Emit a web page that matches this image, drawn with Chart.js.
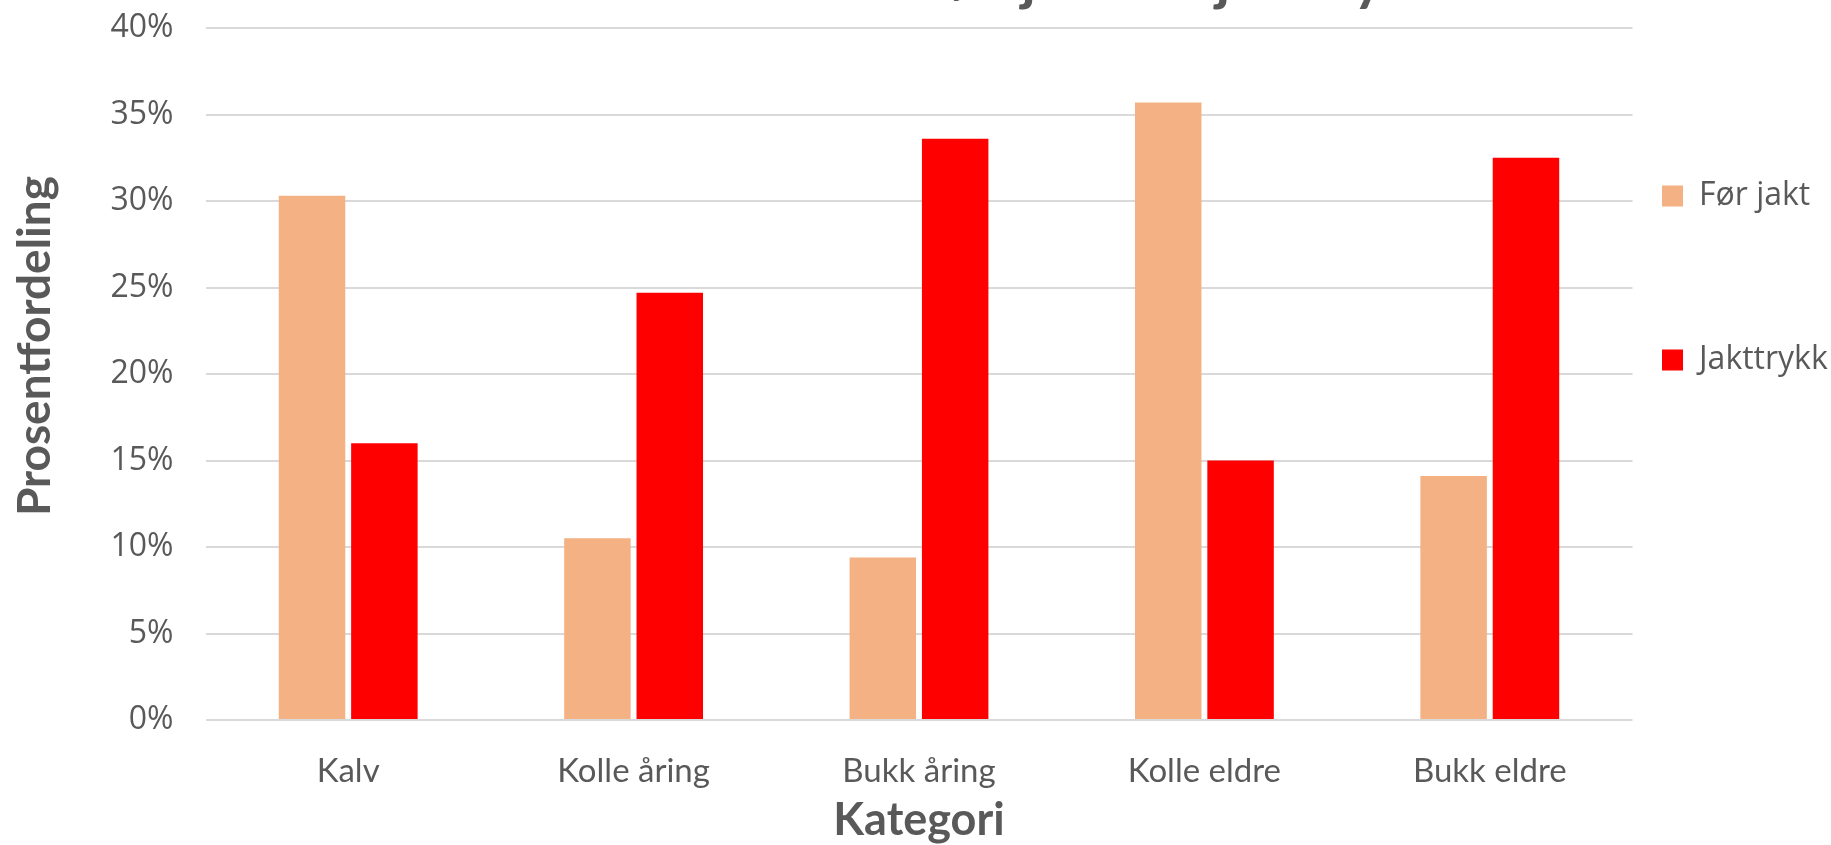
<!DOCTYPE html>
<html><head><meta charset="utf-8">
<script src="https://cdn.jsdelivr.net/npm/chart.js@4.4.1/dist/chart.umd.min.js"></script>
<style>
html,body{margin:0;padding:0;background:#fff;overflow:hidden;width:1831px;height:845px}
#wrap{position:absolute;left:0;top:-72px;width:1831px;height:917px}
</style>
</head><body><div id="wrap"><canvas id="c" width="1831" height="917"></canvas></div>
<script>
const categories = ['Kalv', 'Kolle åring', 'Bukk åring', 'Kolle eldre', 'Bukk eldre'];
const forJakt = [30.3, 10.5, 9.4, 35.7, 14.1];
const jakttrykk = [16.0, 24.7, 33.6, 15.0, 32.5];
const seriesNames = ['Før jakt', 'Jakttrykk'];
const yTicks = [0, 5, 10, 15, 20, 25, 30, 35, 40];
const chartTitle = 'Struktur i bestanden før jakt vs. jakttrykk';
const xTitle = 'Kategori';
const yTitle = 'Prosentfordeling';

const TXT = '#595959';
const OFF = 72;              // canvas is shifted up so the title is cut off
const AREA_LEFT = 205.5, AREA_RIGHT = 1632.5, AREA_TOP = 28 + OFF, AREA_BOTTOM = 720 + OFF;
const CW = 1831, CH = 845 + OFF;
const TITLE_PAD_TOP = 17;

const legendFont = {family: 'Open Sans', size: 32};
const LEG_PAD = 29.5;
const mctx = document.createElement('canvas').getContext('2d');
mctx.font = legendFont.size + 'px "Open Sans"';
const maxLegW = Math.max(...seriesNames.map(s => mctx.measureText(s).width));
const legendWidth = LEG_PAD + 21 + legendFont.size / 2 + maxLegW + 10;
const padRight = CW - AREA_RIGHT - legendWidth;

new Chart(document.getElementById('c'), {
  type: 'bar',
  data: {
    labels: categories,
    datasets: [
      {label: seriesNames[0], data: forJakt, backgroundColor: '#F4B183', borderWidth: 0,
       categoryPercentage: 0.507, barPercentage: 0.919},
      {label: seriesNames[1], data: jakttrykk, backgroundColor: '#FF0000', borderWidth: 0,
       categoryPercentage: 0.507, barPercentage: 0.919}
    ]
  },
  options: {
    responsive: false,
    animation: false,
    devicePixelRatio: 1,
    layout: {padding: {left: 0, top: 0, bottom: 0, right: padRight}},
    plugins: {
      tooltip: {enabled: false},
      title: {
        display: true, text: chartTitle, color: TXT,
        font: {family: 'Lato', size: 58, weight: 'bold', lineHeight: 1.2},
        padding: {top: TITLE_PAD_TOP, bottom: AREA_TOP - TITLE_PAD_TOP - 58 * 1.2}
      },
      legend: {
        position: 'right', align: 'start', fullSize: false,
        title: {display: true, text: ' ', font: {size: 10, lineHeight: 1}, padding: {top: (196 + OFF - 16) - AREA_TOP - LEG_PAD - 10, bottom: 0}},
        labels: {
          boxWidth: 21, boxHeight: 21, padding: LEG_PAD, color: TXT,
          font: {family: 'Open Sans', size: 32, lineHeight: 134.5 / 3 / 32},
          generateLabels(chart) {
            const items = Chart.defaults.plugins.legend.labels.generateLabels(chart);
            items.forEach(it => { it.lineWidth = 0; it.strokeStyle = 'rgba(0,0,0,0)'; });
            items[0].text = [items[0].text, '', ''];
            return items;
          }
        }
      }
    },
    scales: {
      x: {
        grid: {display: false, drawTicks: false},
        border: {display: false},
        ticks: {color: TXT, padding: 32, font: {family: 'Lato', size: 33}},
        title: {display: true, text: xTitle, color: TXT,
          font: {family: 'Lato', size: 45, weight: 'bold', lineHeight: 1.0}, padding: {top: 0, bottom: 2}},
        afterFit(s) { s.height = CH - AREA_BOTTOM; }
      },
      y: {
        min: 0, max: 40,
        afterBuildTicks(s) { s.ticks = yTicks.map(v => ({value: v})); },
        grid: {color: '#D9D9D9', lineWidth: 2, drawTicks: false},
        border: {display: false},
        ticks: {color: TXT, padding: 32, font: {family: 'Open Sans', size: 32},
          callback: v => v + '%'},
        title: {display: true, text: '     ' + yTitle, color: TXT,
          font: {family: 'Lato', size: 46, weight: 'bold', lineHeight: 1.2}, padding: {top: 8, bottom: 0}},
        afterFit(s) { s.width = AREA_LEFT; }
      }
    }
  }
});
</script>
</body></html>
